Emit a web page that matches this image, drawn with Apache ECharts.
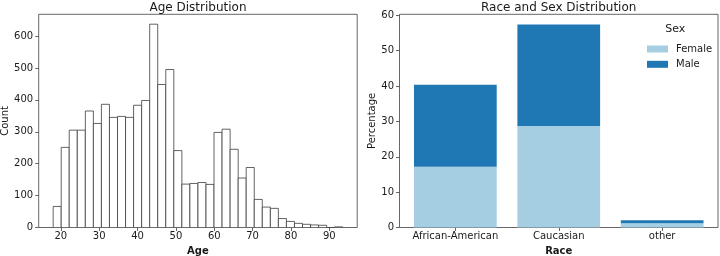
<!DOCTYPE html>
<html>
<head>
<meta charset="utf-8">
<script src="https://cdn.jsdelivr.net/npm/echarts@6/dist/echarts.min.js"></script>
<style>html,body{margin:0;padding:0;background:#fff}#c{width:720px;height:256px}</style>
</head>
<body>
<div id="c"></div>
<script>
// ---- Data ----
const ageEdges = [18.00, 20.10, 22.19, 24.29, 26.39, 28.49, 30.58, 32.68, 34.78, 36.88, 38.97, 41.07, 43.17, 45.26, 47.36, 49.46, 51.56, 53.65, 55.75, 57.85, 59.94, 62.04, 64.14, 66.24, 68.33, 70.43, 72.53, 74.63, 76.72, 78.82, 80.92, 83.01, 85.11, 87.21, 89.31, 91.40, 93.50];
const ageCounts = [66, 251, 305, 305, 365, 326, 386, 345, 348, 345, 383, 398, 637, 448, 495, 241, 136, 138, 141, 135, 298, 308, 245, 155, 188, 88, 64, 60, 28, 19, 13, 10, 8, 7, 0, 2];
const ageTicks = [20, 30, 40, 50, 60, 70, 80, 90];
const countTicks = [0, 100, 200, 300, 400, 500, 600];

const raceCats = ['African-American', 'Caucasian', 'other'];
const femalePct = [17.2, 28.7, 1.2];
const malePct = [23.2, 28.7, 0.85];
const pctTicks = [0, 10, 20, 30, 40, 50, 60];

// ---- Chart ----
const FONT = 'DejaVu Sans';
const TXT = '#1a1a1a';
const SPINE = '#404040';
const FS = 10;
const BAR_W = 0.8; // bar width in category units
const chart = echarts.init(document.getElementById('c'), null, {renderer: 'canvas'});

const histData = ageCounts.map((c, i) => [ageEdges[i], ageEdges[i + 1], c]);
const femaleData = femalePct.map((v, i) => [i, 0, v]);
const maleData = malePct.map((v, i) => [i, femalePct[i], femalePct[i] + v]);

const tickStyle = {show: true, inside: false, length: 3.5, lineStyle: {color: SPINE, width: 0.8}};
const labelStyle = {color: TXT, fontFamily: FONT, fontSize: FS};

function stackRect(color) {
  return function (params, api) {
    const i = api.value(0);
    const a = api.coord([i - BAR_W / 2, api.value(1)]);
    const b = api.coord([i + BAR_W / 2, api.value(2)]);
    return {type: 'rect', shape: {x: a[0], y: b[1], width: b[0] - a[0], height: a[1] - b[1]},
            style: {fill: color}};
  };
}

chart.setOption({
  animation: false,
  backgroundColor: '#fff',
  grid: [
    {left: 38.7, top: 14.3, width: 318.5, height: 213.2, outerBoundsMode: 'none', containLabel: false,
     show: true, borderColor: SPINE, borderWidth: 0.8, backgroundColor: 'transparent'},
    {left: 399.5, top: 14.3, width: 318.5, height: 213.2, outerBoundsMode: 'none', containLabel: false,
     show: true, borderColor: SPINE, borderWidth: 0.8, backgroundColor: 'transparent'}
  ],
  xAxis: [
    {type: 'value', gridIndex: 0, min: 14.23, max: 97.27,
     axisLine: {show: false, onZero: false}, splitLine: {show: false},
     axisTick: Object.assign({}, tickStyle, {customValues: ageTicks}),
     axisLabel: Object.assign({}, labelStyle, {margin: 4, customValues: ageTicks}),
     name: 'Age', nameLocation: 'middle', nameGap: 16.5,
     nameTextStyle: {color: TXT, fontFamily: FONT, fontSize: FS, fontWeight: 'bold'}},
    {type: 'value', gridIndex: 1, min: -0.54, max: 2.54,
     axisLine: {show: false, onZero: false}, splitLine: {show: false},
     axisTick: Object.assign({}, tickStyle, {customValues: [0, 1, 2]}),
     axisLabel: Object.assign({}, labelStyle, {margin: 4, customValues: [0, 1, 2],
       formatter: v => raceCats[Math.round(v)]}),
     name: 'Race', nameLocation: 'middle', nameGap: 16.5,
     nameTextStyle: {color: TXT, fontFamily: FONT, fontSize: FS, fontWeight: 'bold'}}
  ],
  yAxis: [
    {type: 'value', gridIndex: 0, min: 0, max: 668,
     axisLine: {show: false, onZero: false}, splitLine: {show: false},
     axisTick: Object.assign({}, tickStyle, {customValues: countTicks}),
     axisLabel: Object.assign({}, labelStyle, {margin: 5.5, customValues: countTicks}),
     name: 'Count', nameLocation: 'middle', nameGap: 27.5,
     nameTextStyle: {color: TXT, fontFamily: FONT, fontSize: FS}},
    {type: 'value', gridIndex: 1, min: 0, max: 60.3,
     axisLine: {show: false, onZero: false}, splitLine: {show: false},
     axisTick: Object.assign({}, tickStyle, {customValues: pctTicks}),
     axisLabel: Object.assign({}, labelStyle, {margin: 5.5, customValues: pctTicks}),
     name: 'Percentage', nameLocation: 'middle', nameGap: 21,
     nameTextStyle: {color: TXT, fontFamily: FONT, fontSize: FS}}
  ],
  legend: {
    orient: 'vertical', left: 642, top: 38,
    data: ['Female', 'Male'],
    icon: 'rect', itemWidth: 21, itemHeight: 7, itemGap: 3.3,
    textStyle: {color: TXT, fontFamily: FONT, fontSize: 10, lineHeight: 12, padding: [0, 0, 0, 3]},
    selectedMode: false
  },
  graphic: [
    {type: 'text', style: {x: 198, y: 7.5, text: 'Age Distribution', textAlign: 'center', textVerticalAlign: 'middle', fill: TXT, font: '12px "DejaVu Sans"'}},
    {type: 'text', style: {x: 558.7, y: 7.5, text: 'Race and Sex Distribution', textAlign: 'center', textVerticalAlign: 'middle', fill: TXT, font: '12px "DejaVu Sans"'}},
    {type: 'text', style: {x: 675.3, y: 29, text: 'Sex', textAlign: 'center', textVerticalAlign: 'middle', fill: TXT, font: '11px "DejaVu Sans"'}}
  ],
  series: [
    {type: 'custom', xAxisIndex: 0, yAxisIndex: 0, data: histData, clip: true,
     encode: {x: [0, 1], y: 2},
     renderItem: function (params, api) {
       const p0 = api.coord([api.value(0), 0]);
       const p1 = api.coord([api.value(1), api.value(2)]);
       return {type: 'rect', shape: {x: p0[0], y: p1[1], width: p1[0] - p0[0], height: p0[1] - p1[1]},
               style: {fill: '#ffffff', stroke: '#3c3c3c', lineWidth: 0.8}};
     }},
    {type: 'custom', name: 'Female', xAxisIndex: 1, yAxisIndex: 1, data: femaleData,
     encode: {x: 0, y: [1, 2]}, itemStyle: {color: '#a6cee3'}, renderItem: stackRect('#a6cee3')},
    {type: 'custom', name: 'Male', xAxisIndex: 1, yAxisIndex: 1, data: maleData,
     encode: {x: 0, y: [1, 2]}, itemStyle: {color: '#1f78b4'}, renderItem: stackRect('#1f78b4')}
  ]
});
</script>
</body>
</html>
